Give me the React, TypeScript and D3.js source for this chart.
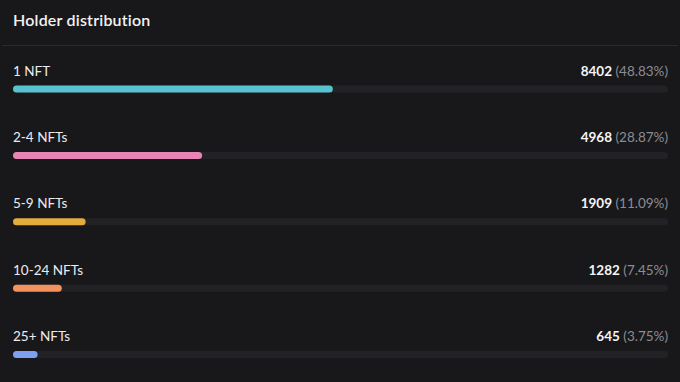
import React from "react";
import * as d3 from "d3";

const categories = ["1 NFT", "2-4 NFTs", "5-9 NFTs", "10-24 NFTs", "25+ NFTs"];
const holders = [8402, 4968, 1909, 1282, 645];
const percents = [48.83, 28.87, 11.09, 7.45, 3.75];
const colors = ["#58c3cf", "#e884b6", "#e3ad3c", "#f1925f", "#7f9ff3"];

const W = 680;
const H = 382;
const FONT = "Lato, 'Open Sans', sans-serif";

export default function App() {
  const left = 13;
  const right = 668;
  const barH = 7;

  const x = d3.scaleLinear().domain([0, 100]).range([0, right - left]);
  const y = d3
    .scalePoint<string>()
    .domain(categories)
    .range([89, 354.5]);

  return (
    <div style={{ position: "fixed", left: 0, top: 0, width: W, height: H }}>
      <svg width={W} height={H} style={{ display: "block", fontFamily: FONT }}>
        <rect x={0} y={0} width={W} height={H} fill="#18181b" />
        <text x={13} y={26} fill="#f2f2f3" fontSize={16} fontWeight={600} letterSpacing={0.2}>
          Holder distribution
        </text>
        <line x1={2} x2={678} y1={45.5} y2={45.5} stroke="#2a2a2f" strokeWidth={1.2} />
        {categories.map((c, i) => {
          const cy = y(c)!;
          const base = cy - 13.5;
          return (
            <g key={c}>
              <text x={left} y={base} fill="#ececee" fontSize={13.5}>
                {c}
              </text>
              <text x={right} y={base} textAnchor="end" fontSize={13.5}>
                <tspan fill="#f5f5f6" fontWeight={700}>
                  {holders[i]}
                </tspan>
                <tspan fill="#8c8c92"> ({percents[i].toFixed(2)}%)</tspan>
              </text>
              <rect
                x={left}
                y={cy - barH / 2}
                width={right - left}
                height={barH}
                rx={barH / 2}
                fill="#222226"
              />
              <rect
                x={left}
                y={cy - barH / 2}
                width={x(percents[i])}
                height={barH}
                rx={barH / 2}
                fill={colors[i]}
              />
            </g>
          );
        })}
      </svg>
    </div>
  );
}
